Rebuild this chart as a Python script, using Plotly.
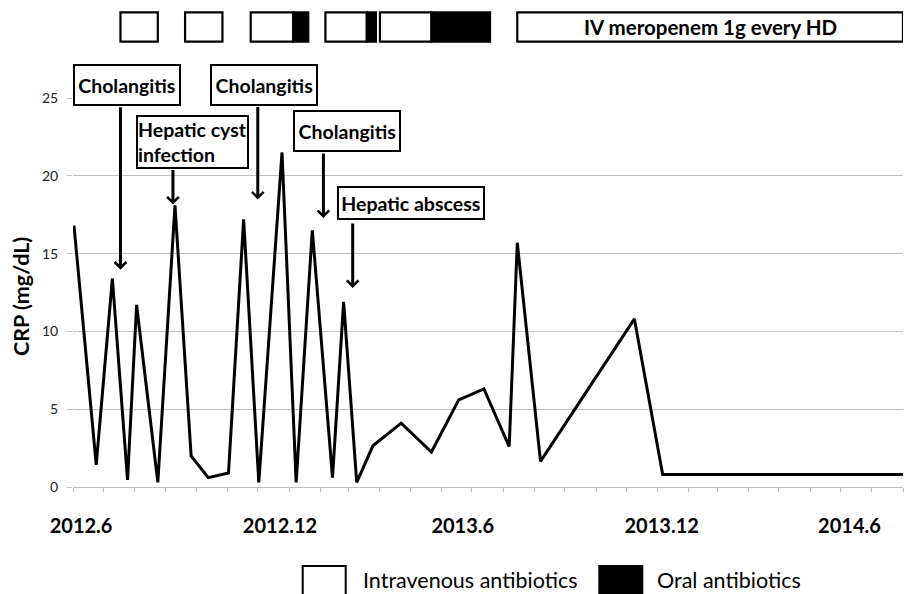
import plotly.graph_objects as go
from datetime import datetime

# ---------------- data ----------------
crp_dates = ["2012-06-02", "2012-06-24", "2012-07-10", "2012-07-25", "2012-08-03",
             "2012-08-24", "2012-09-10", "2012-09-26", "2012-10-13", "2012-11-02",
             "2012-11-17", "2012-12-02", "2012-12-25", "2013-01-08", "2013-01-24",
             "2013-02-13", "2013-02-24", "2013-03-09", "2013-03-25", "2013-04-22",
             "2013-05-22", "2013-06-18", "2013-07-13", "2013-08-07", "2013-08-15",
             "2013-09-07", "2013-12-09", "2014-01-06", "2014-09-01"]
crp_values = [16.8, 1.43, 13.4, 0.45, 11.7,
              0.3, 18.1, 2.0, 0.6, 0.9,
              17.2, 0.3, 21.5, 0.3, 16.5,
              0.6, 11.9, 0.3, 2.65, 4.1,
              2.25, 5.6, 6.3, 2.6, 15.7,
              1.65, 10.8, 0.8, 0.8]

# antibiotic courses: IV start, switch to oral (or end), oral end
course_start = ["2012-07-18", "2012-09-20", "2012-11-24", "2013-02-06", "2013-04-01"]
course_iv_end = ["2012-08-24", "2012-10-27", "2013-01-05", "2013-03-19", "2013-05-22"]
course_oral_end = ["2012-08-24", "2012-10-27", "2013-01-20", "2013-03-28", "2013-07-19"]
meropenem_start = "2013-08-15"
meropenem_end = "2014-09-01"
meropenem_label = "IV meropenem 1g every HD"

# clinical events (date, CRP level pointed at)
event_labels = ["Cholangitis", "Hepatic cyst<br>infection", "Cholangitis",
                "Cholangitis", "Hepatic abscess"]
event_dates = ["2012-07-18", "2012-09-08", "2012-12-01", "2013-02-04", "2013-03-05"]
event_levels = [13.97, 18.15, 18.47, 17.29, 12.79]

x_tick_dates = ["2012-06-09", "2012-12-23", "2013-06-22", "2014-01-05", "2014-07-10"]
x_tick_text = ["2012.6", "2012.12", "2013.6", "2013.12", "2014.6"]
y_tick_vals = [0, 5, 10, 15, 20, 25]

legend_labels = ["Intravenous antibiotics", "Oral antibiotics"]

# ---------------- layout constants ----------------
W, H = 906, 594
ML, MR, MT, MB = 73, 3, 98, 107
PW, PH = W - ML - MR, H - MT - MB
FONT = "Lato"


def px_x(px):
    return (px - ML) / PW


def px_y(py):
    return (H - MB - py) / PH


fig = go.Figure()
fig.add_trace(go.Scatter(x=crp_dates, y=crp_values, mode="lines",
                         line=dict(color="black", width=3), showlegend=False,
                         hoverinfo="x+y"))

shapes = []
bar_y0, bar_y1 = px_y(41.7), px_y(12.3)
for s, ive, oe in zip(course_start, course_iv_end, course_oral_end):
    shapes.append(dict(type="rect", xref="x", yref="paper", x0=s, x1=ive, y0=bar_y0, y1=bar_y1,
                       fillcolor="white", line=dict(color="black", width=2.2)))
    if oe != ive:
        shapes.append(dict(type="rect", xref="x", yref="paper", x0=ive, x1=oe, y0=bar_y0, y1=bar_y1,
                           fillcolor="black", line=dict(color="black", width=2.2)))
shapes.append(dict(type="rect", xref="x", yref="paper", x0=meropenem_start, x1=meropenem_end,
                   y0=bar_y0, y1=bar_y1, fillcolor="white", line=dict(color="black", width=2.2)))

# legend boxes
shapes.append(dict(type="rect", xref="paper", yref="paper", x0=px_x(302.7), x1=px_x(345.7),
                   y0=px_y(600), y1=px_y(566), fillcolor="white", line=dict(color="black", width=2)))
shapes.append(dict(type="rect", xref="paper", yref="paper", x0=px_x(599.3), x1=px_x(642.3),
                   y0=px_y(600), y1=px_y(566), fillcolor="black", line=dict(color="black", width=2)))

annotations = []
# meropenem label centered in its box
d0 = datetime.fromisoformat(meropenem_start)
d1 = datetime.fromisoformat(meropenem_end)
mid = d0 + (d1 - d0) / 2
annotations.append(dict(x=mid.strftime("%Y-%m-%d"), xref="x", y=(bar_y0 + bar_y1) / 2, yref="paper",
                        xanchor="center", yanchor="middle",
                        text=meropenem_label, showarrow=False,
                        font=dict(family=FONT, size=20.5, color="black", weight="bold")))

# event boxes (offsets in px from arrow tip) and arrows
box_dx = [6.5, 20, 5.9, 23.2, 58]
box_dy = [185, 62.8, 115, 86.6, 85.3]
box_w = [107.7, 113.3, 108.3, 108.4, 147.6]
box_h = [42, 54.3, 42, 42, 34]
box_align = ["center", "left", "center", "center", "center"]
arrow_len = [164, 36, 94, 66, 66]
for lab, d, lv, dx, dy, bw, bh, al, alen in zip(event_labels, event_dates, event_levels,
                                                 box_dx, box_dy, box_w, box_h, box_align, arrow_len):
    annotations.append(dict(x=d, y=lv, xref="x", yref="y", text="", showarrow=True,
                            ax=0, ay=-alen, arrowhead=4, arrowsize=0.75, arrowwidth=3,
                            arrowcolor="black", standoff=0, startstandoff=0))
    annotations.append(dict(x=d, y=lv, xref="x", yref="y", text=lab, showarrow=False,
                            xanchor="center", yanchor="middle",
                            xshift=dx, yshift=dy, width=bw - 4, height=bh - 4,
                            align=al, valign="middle", bgcolor="white",
                            bordercolor="black", borderwidth=2, borderpad=0,
                            font=dict(family=FONT, size=19.5, color="black", weight="bold")))

# y-axis title
annotations.append(dict(x=px_x(21), y=px_y(296), xref="paper", yref="paper", text="CRP (mg/dL)",
                        xanchor="center", yanchor="middle",
                        textangle=-90, showarrow=False,
                        font=dict(family=FONT, size=21.5, color="black", weight="bold")))

# legend texts
annotations.append(dict(x=px_x(361), y=px_y(580), xref="paper", yref="paper", text=legend_labels[0],
                        xanchor="left", yanchor="middle", showarrow=False,
                        font=dict(family=FONT, size=21.5, color="black")))
annotations.append(dict(x=px_x(655), y=px_y(580), xref="paper", yref="paper", text=legend_labels[1],
                        xanchor="left", yanchor="middle", showarrow=False,
                        font=dict(family=FONT, size=21.5, color="black")))

fig.update_layout(
    width=W, height=H,
    margin=dict(l=ML, r=MR, t=MT, b=MB),
    paper_bgcolor="white", plot_bgcolor="white",
    shapes=shapes, annotations=annotations,
    xaxis=dict(type="date", range=["2012-06-01", "2014-09-01"],
               tickmode="array", tickvals=x_tick_dates, ticktext=x_tick_text,
               ticks="", showgrid=False, zeroline=False,
               showline=True, linecolor="#BFBFBF", linewidth=1.3,
               tickfont=dict(family=FONT, size=20, color="black", weight="bold"),
               ticklabelstandoff=21,
               minor=dict(dtick="M1", tick0="2012-06-01", ticks="outside", ticklen=4,
                          tickcolor="#BFBFBF", tickwidth=1.3, showgrid=False)),
    yaxis=dict(range=[0, 25], tickmode="array", tickvals=y_tick_vals,
               ticks="outside", ticklen=5, tickcolor="#BFBFBF", tickwidth=1.3,
               showgrid=True, gridcolor="#BFBFBF", gridwidth=1.3,
               zeroline=False, showline=False,
               ticklabelstandoff=6,
               tickfont=dict(family=FONT, size=14, color="#222222")),
)

fig.write_html("out.html", config={"displayModeBar": False},
               post_script="document.body.style.margin='0';")
